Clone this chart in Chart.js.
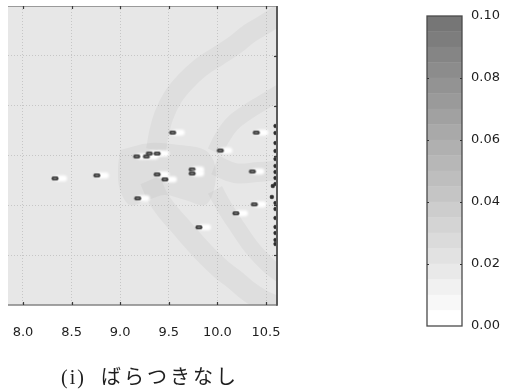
<!DOCTYPE html>
<html>
<head>
<meta charset="utf-8">
<script src="https://cdn.jsdelivr.net/npm/chart.js@4/dist/chart.umd.min.js"></script>
<style>
  html, body { margin: 0; padding: 0; background: #ffffff; }
  #wrap { position: relative; width: 506px; height: 389px; overflow: hidden; }
  #field { position: absolute; left: 0; top: 0; }
  #cbar { position: absolute; left: 400px; top: 0; }
  #cap {
    position: absolute; left: 61px; top: 364px;
    font-size: 20px; line-height: 24px;
    color: #1e1e1e; white-space: nowrap;
  }
  #cap .tag { font-family: "Liberation Serif", serif; letter-spacing: 2px; }
  #cap .txt { font-family: "Noto Sans CJK JP", sans-serif; letter-spacing: 3px; margin-left: 15px; }
</style>
</head>
<body>
<div id="wrap">
  <canvas id="field" width="506" height="389" style="width:506px;height:389px"></canvas>
  <canvas id="cbar" width="106" height="389" style="width:106px;height:389px"></canvas>
  <div id="cap"><span class="tag">(i)</span><span class="txt">ばらつきなし</span></div>
</div>
<script>
// ---- axis ticks ----
const xTicks = [8.0, 8.5, 9.0, 9.5, 10.0, 10.5];
const yTicks = [0.5, 1.0, 1.5, 2.0, 2.5];
const cbTicks = [0.00, 0.02, 0.04, 0.06, 0.08, 0.10];

// ---- particles (x, y) ----
const particleX = [8.33, 8.76, 9.17, 9.27, 9.30, 9.38, 9.54, 9.38, 9.46, 9.18,
                   9.74, 9.74, 10.03, 10.40, 10.36, 10.38, 10.19, 9.81];
const particleY = [1.27, 1.30, 1.49, 1.49, 1.52, 1.52, 1.73, 1.31, 1.26, 1.07,
                   1.36, 1.32, 1.55, 1.73, 1.34, 1.01, 0.92, 0.78];

// particles piled up at the outlet wall
const wallX = [10.598, 10.598, 10.598, 10.598, 10.598, 10.598, 10.598, 10.598, 10.598,
               10.57, 10.56, 10.598, 10.598, 10.598, 10.598, 10.598, 10.598, 10.598];
const wallY = [1.796, 1.726, 1.625, 1.545, 1.465, 1.395, 1.334, 1.274, 1.214,
               1.194, 1.084, 1.023, 0.963, 0.873, 0.783, 0.722, 0.652, 0.612];

// ---- concentration field: ridge centre lines ----
const outerUpperX = [10.644, 10.490, 10.335, 10.181, 10.006, 9.821, 9.667, 9.543, 9.451, 9.399, 9.368];
const outerUpperY = [2.920, 2.819, 2.729, 2.609, 2.498, 2.378, 2.237, 2.087, 1.906, 1.726, 1.555];
const outerLowerX = [9.307, 9.389, 9.492, 9.626, 9.770, 9.903, 10.047, 10.181, 10.315, 10.459, 10.644];
const outerLowerY = [1.254, 1.074, 0.933, 0.783, 0.622, 0.482, 0.351, 0.251, 0.140, 0.050, -0.030];
const innerUpperX = [10.644, 10.459, 10.294, 10.150, 10.047, 9.975];
const innerUpperY = [2.137, 2.027, 1.926, 1.816, 1.676, 1.535];
const innerMidX = [9.975, 10.181, 10.418, 10.644];
const innerMidY = [1.405, 1.324, 1.334, 1.354];
const innerLowerX = [9.975, 10.078, 10.212, 10.356, 10.521, 10.665];
const innerLowerY = [1.154, 0.973, 0.773, 0.572, 0.401, 0.291];
// core patch behind the particle cloud
const coreX = [8.998, 9.307, 9.615, 9.872, 9.975, 9.965, 9.872, 9.667, 9.461, 9.286, 9.101, 8.998, 8.977, 8.998];
const coreY = [1.555, 1.625, 1.605, 1.555, 1.405, 1.154, 1.003, 1.053, 1.104, 1.053, 1.003, 1.154, 1.354, 1.555];

// ---- colour bar levels ----
const cbLevels = [0.000, 0.005, 0.010, 0.015, 0.020, 0.025, 0.030, 0.035, 0.040, 0.045, 0.050,
                  0.055, 0.060, 0.065, 0.070, 0.075, 0.080, 0.085, 0.090, 0.095, 0.100];

const pts = (xs, ys) => xs.map((x, i) => ({ x: x, y: ys[i] }));
const RIDGE = 'rgba(0,0,0,0.034)';
const LABEL = '#1e1e1e';

function grayAt(v) {
  const g = Math.round(255 - (v / 0.1) * 144);
  return 'rgb(' + g + ',' + g + ',' + g + ')';
}

function rr(g, x, y, w, h, r) {
  g.beginPath();
  g.moveTo(x + r, y);
  g.lineTo(x + w - r, y); g.quadraticCurveTo(x + w, y, x + w, y + r);
  g.lineTo(x + w, y + h - r); g.quadraticCurveTo(x + w, y + h, x + w - r, y + h);
  g.lineTo(x + r, y + h); g.quadraticCurveTo(x, y + h, x, y + h - r);
  g.lineTo(x, y + r); g.quadraticCurveTo(x, y, x + r, y);
  g.closePath();
}

// particle glyph: dark capsule with a white wake trailing downstream
function particleGlyph() {
  const c = document.createElement('canvas');
  c.width = 34; c.height = 14;
  const g = c.getContext('2d');
  g.filter = 'blur(0.8px)';
  g.fillStyle = '#ffffff';
  rr(g, 17, 4, 12, 6, 3); g.fill();
  g.filter = 'none';
  g.fillStyle = '#3c3c3c';
  rr(g, 13.5, 5, 7, 4, 1.8); g.fill();
  g.fillStyle = '#909090';
  g.fillRect(15.5, 6.5, 3, 1);
  return c;
}

function ridge(xs, ys, w) {
  return {
    type: 'line', data: pts(xs, ys), showLine: true,
    borderColor: RIDGE, borderWidth: w, tension: 0.4,
    borderCapStyle: 'butt', pointRadius: 0, clip: 0, fill: false
  };
}

const fieldBg = {
  id: 'fieldBg',
  beforeDraw(chart) {
    const a = chart.chartArea, ctx = chart.ctx;
    ctx.save();
    ctx.fillStyle = '#e7e7e7';
    ctx.fillRect(a.left, a.top, a.right - a.left, a.bottom - a.top);
    ctx.restore();
  }
};

const fieldFrame = {
  id: 'fieldFrame',
  afterDraw(chart) {
    const a = chart.chartArea, ctx = chart.ctx;
    const xs = chart.scales.x, ys = chart.scales.y;
    ctx.save();
    ctx.strokeStyle = '#9a9a9a'; ctx.lineWidth = 1;
    ctx.beginPath(); ctx.moveTo(a.left, a.top + 0.5); ctx.lineTo(a.right, a.top + 0.5); ctx.stroke();
    ctx.strokeStyle = '#858585'; ctx.lineWidth = 1.5;
    ctx.beginPath(); ctx.moveTo(a.left, a.bottom); ctx.lineTo(a.right, a.bottom); ctx.stroke();
    ctx.strokeStyle = '#5a5a5a'; ctx.lineWidth = 2;
    ctx.beginPath(); ctx.moveTo(a.right, a.top); ctx.lineTo(a.right, a.bottom + 0.75); ctx.stroke();
    ctx.strokeStyle = '#3a3a3a'; ctx.lineWidth = 1.2;
    xTicks.forEach(v => {
      const p = Math.round(xs.getPixelForValue(v)) + 0.5;
      ctx.beginPath(); ctx.moveTo(p, a.bottom); ctx.lineTo(p, a.bottom - 3); ctx.stroke();
      ctx.beginPath(); ctx.moveTo(p, a.top); ctx.lineTo(p, a.top + 3); ctx.stroke();
    });
    yTicks.forEach(v => {
      const p = Math.round(ys.getPixelForValue(v)) + 0.5;
      ctx.beginPath(); ctx.moveTo(a.right, p); ctx.lineTo(a.right - 3, p); ctx.stroke();
    });
    ctx.restore();
  }
};

new Chart(document.getElementById('field'), {
  type: 'scatter',
  data: {
    datasets: [
      { data: pts(particleX, particleY), pointStyle: particleGlyph(), pointRadius: 4, clip: 0 },
      { data: pts(wallX, wallY), pointStyle: 'rectRounded', pointRadius: 2,
        backgroundColor: '#2e2e2e', borderColor: '#2e2e2e', borderWidth: 0.5, clip: 0 },
      ridge(outerUpperX, outerUpperY, 20),
      ridge(outerLowerX, outerLowerY, 21),
      ridge(innerUpperX, innerUpperY, 16),
      ridge(innerMidX, innerMidY, 20),
      ridge(innerLowerX, innerLowerY, 16),
      { type: 'line', data: pts(coreX, coreY), showLine: true, fill: 'shape',
        backgroundColor: RIDGE, borderWidth: 0, borderColor: 'rgba(0,0,0,0)',
        tension: 0.35, pointRadius: 0, clip: 0 }
    ]
  },
  options: {
    responsive: false, animation: false, events: [],
    layout: { padding: { left: 8, top: 6, right: 229, bottom: 0 } },
    plugins: { legend: { display: false }, tooltip: { enabled: false } },
    scales: {
      x: {
        type: 'linear', min: 7.846, max: 10.613,
        afterBuildTicks: s => { s.ticks = xTicks.map(v => ({ value: v })); },
        afterFit: s => { s.height = 84; s.paddingLeft = 0; s.paddingRight = 0; },
        ticks: {
          padding: 20, color: LABEL, maxRotation: 0,
          font: { family: 'DejaVu Sans', size: 13 },
          callback: v => v.toFixed(1)
        },
        grid: { color: '#c6c6c6', lineWidth: 1, drawTicks: false },
        border: { display: false, dash: [1, 2] }
      },
      y: {
        type: 'linear', min: 0, max: 3,
        afterBuildTicks: s => { s.ticks = yTicks.map(v => ({ value: v })); },
        afterFit: s => { s.width = 0; s.paddingTop = 0; s.paddingBottom = 0; },
        ticks: { display: false },
        grid: { color: '#c6c6c6', lineWidth: 1, drawTicks: false },
        border: { display: false, dash: [1, 2] }
      }
    }
  },
  plugins: [fieldBg, fieldFrame]
});

// ---- colour bar ----
const cbFrame = {
  id: 'cbFrame',
  afterDraw(chart) {
    const a = chart.chartArea, ctx = chart.ctx, ys = chart.scales.y;
    ctx.save();
    ctx.strokeStyle = '#4a4a4a'; ctx.lineWidth = 1.3;
    ctx.strokeRect(a.left, a.top, a.right - a.left, a.bottom - a.top);
    ctx.strokeStyle = '#333333'; ctx.lineWidth = 1;
    cbTicks.slice(1, -1).forEach(v => {
      const p = Math.round(ys.getPixelForValue(v)) + 0.5;
      ctx.beginPath(); ctx.moveTo(a.left, p); ctx.lineTo(a.left + 2, p); ctx.stroke();
      ctx.beginPath(); ctx.moveTo(a.right, p); ctx.lineTo(a.right - 2, p); ctx.stroke();
    });
    ctx.restore();
  }
};

new Chart(document.getElementById('cbar'), {
  type: 'bar',
  data: {
    labels: [''],
    datasets: cbLevels.slice(0, -1).map((lo, i) => ({
      data: [cbLevels[i + 1] - lo],
      backgroundColor: grayAt(lo),
      borderWidth: 0, barPercentage: 1, categoryPercentage: 1, stack: 'cb'
    }))
  },
  options: {
    responsive: false, animation: false, events: [],
    layout: { padding: { left: 27, top: 16, right: 0, bottom: 63 } },
    plugins: { legend: { display: false }, tooltip: { enabled: false } },
    scales: {
      x: { stacked: true, display: false },
      y: {
        stacked: true, position: 'right', min: 0, max: 0.1,
        afterBuildTicks: s => { s.ticks = cbTicks.map(v => ({ value: v })); },
        afterFit: s => { s.width = 44; s.paddingTop = 0; s.paddingBottom = 0; },
        ticks: {
          padding: 9, color: LABEL,
          font: { family: 'DejaVu Sans', size: 13 },
          callback: v => v.toFixed(2)
        },
        grid: { display: false, drawTicks: false },
        border: { display: false }
      }
    }
  },
  plugins: [cbFrame]
});
</script>
</body>
</html>
